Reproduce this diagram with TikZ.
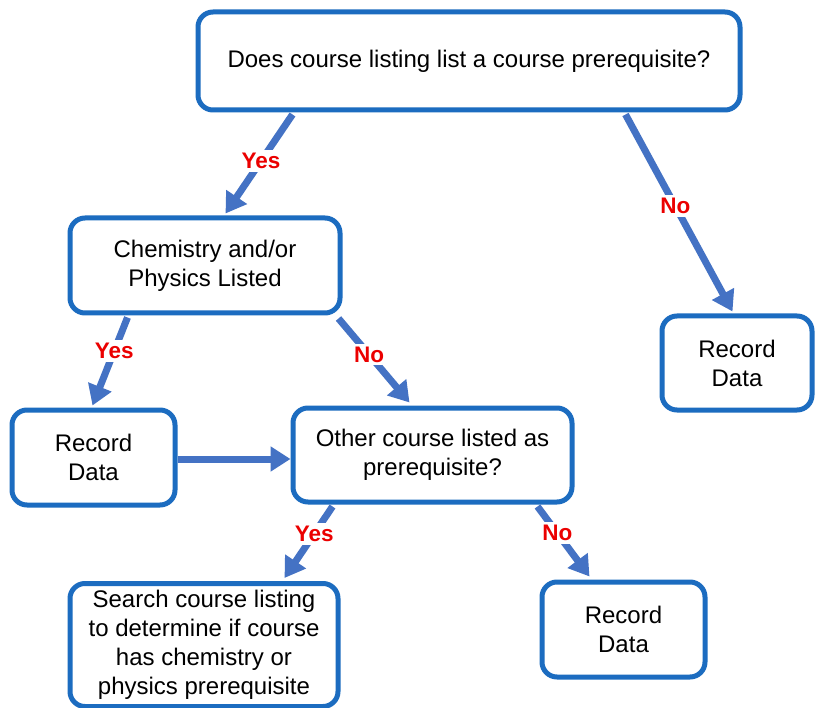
\documentclass[tikz,border=0pt]{standalone}
\usepackage{fontspec}
\setmainfont{Liberation Sans}
\usetikzlibrary{arrows.meta}
\definecolor{boxblue}{RGB}{28,108,192}
\definecolor{arrblue}{RGB}{68,114,196}
\definecolor{lblred}{RGB}{235,0,0}
\begin{document}
\begin{tikzpicture}[x=1pt,y=-1pt,
  box/.style={draw=boxblue,line width=5pt,rounded corners=15pt,fill=white,
    align=center,inner sep=0pt,font=\fontsize{24}{29}\selectfont},
  flow/.style={draw=arrblue,line width=7pt,-{Triangle[length=20pt,width=24pt]}},
  lbl/.style={fill=white,text=lblred,font=\fontsize{22.5}{26}\selectfont\bfseries,inner sep=3pt}]
\useasboundingbox[fill=white] (0,0) rectangle (819,708);
\begin{scope}
\clip (0,0) rectangle (819,708);
\node[box,minimum width=542pt,minimum height=98pt] (A) at (469,61) {Does course listing list a course prerequisite?};
\node[box,minimum width=270pt,minimum height=95pt] (B) at (205,265.5) {Chemistry and/or\\Physics Listed};
\node[box,minimum width=150pt,minimum height=94pt] (C) at (737,363) {Record\\Data};
\node[box,minimum width=163pt,minimum height=95pt] (D) at (93.5,457.5) {Record\\Data};
\node[box,minimum width=279pt,minimum height=94pt] (E) at (432.5,455) {Other course listed as\\prerequisite?};
\node[box,minimum width=268pt,minimum height=123pt] (F) at (204,645) {Search course listing\\to determine if course\\has chemistry or\\physics prerequisite};
\node[box,minimum width=163pt,minimum height=95pt] (G) at (623.5,629.5) {Record\\Data};

\draw[flow] ([xshift=97pt,yshift=-2pt]A.south west) -- node[lbl,pos=0.47] {Yes} ([xshift=158pt,yshift=2pt]B.north west);
\draw[flow] ([xshift=430pt,yshift=-2pt]A.south west) -- node[lbl,pos=0.465] {No} ([xshift=73pt,yshift=2pt]C.north west);
\draw[flow] ([xshift=60pt,yshift=-2pt]B.south west) -- node[lbl,pos=0.38] {Yes} ([xshift=83pt,yshift=2pt]D.north west);
\draw[flow] ([xshift=-4pt,yshift=-3pt]B.south east) -- node[lbl,pos=0.43] {No} ([xshift=119pt,yshift=3pt]E.north west);
\draw[flow] ([yshift=-1.5pt]D.east) -- ([yshift=-1.5pt]D.east -| E.west);
\draw[flow] ([xshift=42pt,yshift=-2pt]E.south west) -- node[lbl,pos=0.38] {Yes} ([xshift=217pt,yshift=3pt]F.north west);
\draw[flow] ([xshift=247pt,yshift=-2pt]E.south west) -- node[lbl,pos=0.38] {No} ([xshift=50pt,yshift=3pt]G.north west);
\end{scope}
\end{tikzpicture}
\end{document}
